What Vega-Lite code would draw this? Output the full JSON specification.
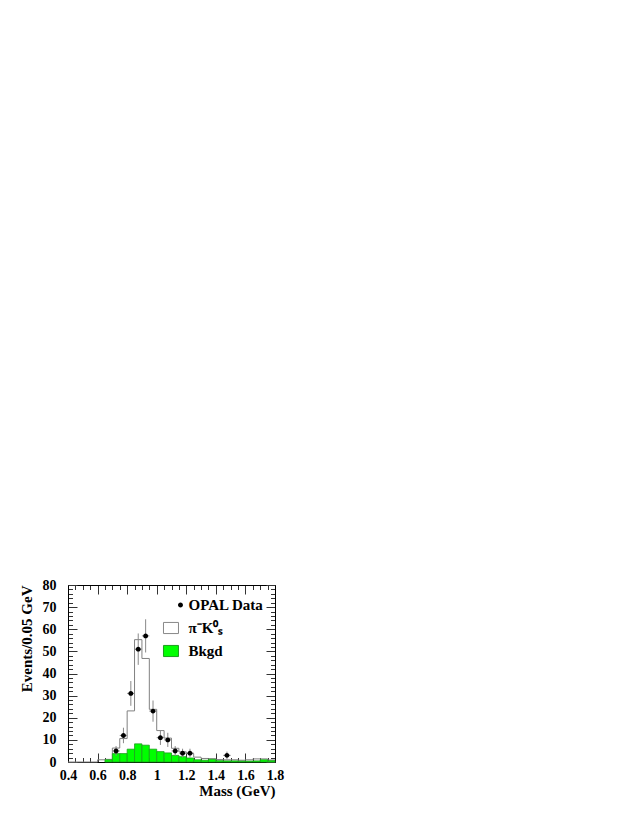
{
  "$schema": "https://vega.github.io/schema/vega-lite/v6.json",
  "width": 207,
  "height": 177,
  "autosize": {"type": "none"},
  "padding": {"left": 68, "top": 585, "right": 363, "bottom": 63},
  "background": "white",
  "config": {
    "view": {"stroke": null},
    "font": "Liberation Serif",
    "axis": {
      "labelFont": "Liberation Serif", "labelFontWeight": "bold", "labelFontSize": 14, "labelColor": "black",
      "titleFont": "Liberation Serif", "titleFontWeight": "bold", "titleFontSize": 15, "titleColor": "black",
      "domainColor": "black", "domainWidth": 1, "tickColor": "#333333", "tickWidth": 1,
      "grid": false, "labelOverlap": false, "labelFlush": false, "labelBound": false
    },
    "legend": {
      "labelFont": "Liberation Serif", "labelFontWeight": "bold", "labelFontSize": 15, "labelColor": "black"
    }
  },
  "datasets": {
    "mc": [
      {"lo": 0.40, "v": 0}, {"lo": 0.45, "v": 0}, {"lo": 0.50, "v": 0}, {"lo": 0.55, "v": 0},
      {"lo": 0.60, "v": 1.0}, {"lo": 0.65, "v": 1.2}, {"lo": 0.70, "v": 6.3}, {"lo": 0.75, "v": 10.6},
      {"lo": 0.80, "v": 23.1}, {"lo": 0.85, "v": 55.3}, {"lo": 0.90, "v": 46.8}, {"lo": 0.95, "v": 23.8},
      {"lo": 1.00, "v": 14.2}, {"lo": 1.05, "v": 10.8}, {"lo": 1.10, "v": 6.2}, {"lo": 1.15, "v": 4.6},
      {"lo": 1.20, "v": 3.8}, {"lo": 1.25, "v": 2.2}, {"lo": 1.30, "v": 1.6}, {"lo": 1.35, "v": 1.5},
      {"lo": 1.40, "v": 1.1}, {"lo": 1.45, "v": 1.0}, {"lo": 1.50, "v": 1.0}, {"lo": 1.55, "v": 0.8},
      {"lo": 1.60, "v": 1.0}, {"lo": 1.65, "v": 1.4}, {"lo": 1.70, "v": 1.4}, {"lo": 1.75, "v": 0.9},
      {"lo": 1.80, "v": 0.9}
    ],
    "bkgd": [
      {"lo": 0.65, "hi": 0.70, "v": 1.0},
      {"lo": 0.70, "hi": 0.75, "v": 3.8},
      {"lo": 0.75, "hi": 0.80, "v": 3.8},
      {"lo": 0.80, "hi": 0.85, "v": 5.8},
      {"lo": 0.85, "hi": 0.90, "v": 8.2},
      {"lo": 0.90, "hi": 0.95, "v": 7.6},
      {"lo": 0.95, "hi": 1.00, "v": 5.8},
      {"lo": 1.00, "hi": 1.05, "v": 4.7},
      {"lo": 1.05, "hi": 1.10, "v": 4.1},
      {"lo": 1.10, "hi": 1.15, "v": 3.0},
      {"lo": 1.15, "hi": 1.20, "v": 2.4},
      {"lo": 1.20, "hi": 1.25, "v": 1.8},
      {"lo": 1.25, "hi": 1.30, "v": 1.0},
      {"lo": 1.30, "hi": 1.35, "v": 0.8},
      {"lo": 1.35, "hi": 1.40, "v": 1.2},
      {"lo": 1.40, "hi": 1.45, "v": 0.6},
      {"lo": 1.45, "hi": 1.50, "v": 0.5},
      {"lo": 1.50, "hi": 1.55, "v": 0.5},
      {"lo": 1.55, "hi": 1.60, "v": 0.4},
      {"lo": 1.60, "hi": 1.65, "v": 0.4},
      {"lo": 1.65, "hi": 1.70, "v": 0.5},
      {"lo": 1.70, "hi": 1.75, "v": 1.0},
      {"lo": 1.75, "hi": 1.80, "v": 0.6}
    ],
    "opal": [
      {"m": 0.725, "n": 5, "nlo": 2.8, "nhi": 7.2, "mlo": 0.70, "mhi": 0.75, "series": "OPAL Data"},
      {"m": 0.775, "n": 12, "nlo": 8.5, "nhi": 15.5, "mlo": 0.75, "mhi": 0.80, "series": "OPAL Data"},
      {"m": 0.825, "n": 31, "nlo": 25.4, "nhi": 36.6, "mlo": 0.80, "mhi": 0.85, "series": "OPAL Data"},
      {"m": 0.875, "n": 51, "nlo": 43.9, "nhi": 58.1, "mlo": 0.85, "mhi": 0.90, "series": "OPAL Data"},
      {"m": 0.925, "n": 57, "nlo": 49.5, "nhi": 64.5, "mlo": 0.90, "mhi": 0.95, "series": "OPAL Data"},
      {"m": 0.975, "n": 23, "nlo": 18.2, "nhi": 27.8, "mlo": 0.95, "mhi": 1.00, "series": "OPAL Data"},
      {"m": 1.025, "n": 11, "nlo": 7.7, "nhi": 14.3, "mlo": 1.00, "mhi": 1.05, "series": "OPAL Data"},
      {"m": 1.075, "n": 10, "nlo": 6.8, "nhi": 13.2, "mlo": 1.05, "mhi": 1.10, "series": "OPAL Data"},
      {"m": 1.125, "n": 5, "nlo": 2.8, "nhi": 7.2, "mlo": 1.10, "mhi": 1.15, "series": "OPAL Data"},
      {"m": 1.175, "n": 4, "nlo": 2.0, "nhi": 6.0, "mlo": 1.15, "mhi": 1.20, "series": "OPAL Data"},
      {"m": 1.225, "n": 4, "nlo": 2.0, "nhi": 6.0, "mlo": 1.20, "mhi": 1.25, "series": "OPAL Data"},
      {"m": 1.475, "n": 3, "nlo": 1.3, "nhi": 4.7, "mlo": 1.45, "mhi": 1.50, "series": "OPAL Data"}
    ]
  },
  "layer": [
    {
      "data": {"name": "mc"},
      "mark": {"type": "line", "interpolate": "step-after", "stroke": "#808080", "strokeWidth": 1},
      "encoding": {
        "x": {"field": "lo", "type": "quantitative",
          "scale": {"domain": [0.4, 1.8], "nice": false, "zero": false},
          "axis": {"orient": "top", "labels": false, "title": null,
            "values": [0.4,0.45,0.5,0.55,0.6,0.65,0.7,0.75,0.8,0.85,0.9,0.95,1,1.05,1.1,1.15,1.2,1.25,1.3,1.35,1.4,1.45,1.5,1.55,1.6,1.65,1.7,1.75,1.8],
            "tickSize": {"condition": {"test": "abs(datum.value*5 - round(datum.value*5)) < 0.001", "value": -9}, "value": -4.5}}},
        "y": {"field": "v", "type": "quantitative",
          "scale": {"domain": [0, 80], "nice": false, "zero": false},
          "axis": {"orient": "right", "labels": false, "title": null,
            "values": [0,2,4,6,8,10,12,14,16,18,20,22,24,26,28,30,32,34,36,38,40,42,44,46,48,50,52,54,56,58,60,62,64,66,68,70,72,74,76,78,80],
            "tickSize": {"condition": {"test": "datum.value % 10 === 0", "value": -9}, "value": -4.5}}}
      }
    },
    {
      "data": {"name": "bkgd"},
      "mark": {"type": "bar", "fill": "#00ff00", "stroke": "#1e9e1e", "strokeWidth": 0.8},
      "encoding": {
        "x": {"field": "lo", "type": "quantitative",
          "scale": {"domain": [0.4, 1.8], "nice": false, "zero": false},
          "axis": {"orient": "bottom", "title": "Mass (GeV)", "titleAnchor": "end", "titlePadding": -3,
            "labelPadding": 15,
            "values": [0.4,0.45,0.5,0.55,0.6,0.65,0.7,0.75,0.8,0.85,0.9,0.95,1,1.05,1.1,1.15,1.2,1.25,1.3,1.35,1.4,1.45,1.5,1.55,1.6,1.65,1.7,1.75,1.8],
            "labelExpr": "abs(datum.value*5 - round(datum.value*5)) < 0.001 ? format(datum.value, '.2~f') : ''",
            "tickSize": {"condition": {"test": "abs(datum.value*5 - round(datum.value*5)) < 0.001", "value": -9}, "value": -4.5}}},
        "x2": {"field": "hi"},
        "y": {"field": "v", "type": "quantitative",
          "scale": {"domain": [0, 80], "nice": false, "zero": false},
          "axis": {"orient": "left", "title": "Events/0.05 GeV", "titleAnchor": "end", "titlePadding": 8,
            "labelPadding": 21,
            "values": [0,2,4,6,8,10,12,14,16,18,20,22,24,26,28,30,32,34,36,38,40,42,44,46,48,50,52,54,56,58,60,62,64,66,68,70,72,74,76,78,80],
            "labelExpr": "datum.value % 10 === 0 ? datum.label : ''",
            "tickSize": {"condition": {"test": "datum.value % 10 === 0", "value": -9}, "value": -4.5}}},
        "y2": {"datum": 0}
      }
    },
    {
      "data": {"name": "opal"},
      "mark": {"type": "rule", "stroke": "#888888", "strokeWidth": 1},
      "encoding": {
        "x": {"field": "m", "type": "quantitative", "scale": {"domain": [0.4, 1.8], "nice": false, "zero": false}, "axis": null},
        "y": {"field": "nlo", "type": "quantitative", "scale": {"domain": [0, 80], "nice": false, "zero": false}, "axis": null},
        "y2": {"field": "nhi"}
      }
    },
    {
      "data": {"name": "opal"},
      "mark": {"type": "rule", "stroke": "#888888", "strokeWidth": 1},
      "encoding": {
        "x": {"field": "mlo", "type": "quantitative", "scale": {"domain": [0.4, 1.8], "nice": false, "zero": false}, "axis": null},
        "x2": {"field": "mhi"},
        "y": {"field": "n", "type": "quantitative", "scale": {"domain": [0, 80], "nice": false, "zero": false}, "axis": null}
      }
    },
    {
      "data": {"name": "opal"},
      "mark": {"type": "point", "filled": true, "size": 220, "opacity": 1, "strokeWidth": 1},
      "encoding": {
        "x": {"field": "m", "type": "quantitative", "scale": {"domain": [0.4, 1.8], "nice": false, "zero": false}, "axis": null},
        "y": {"field": "n", "type": "quantitative", "scale": {"domain": [0, 80], "nice": false, "zero": false}, "axis": null},
        "fill": {"field": "series", "type": "nominal",
          "scale": {"domain": ["OPAL Data", "π⁻K⁰ₛ", "Bkgd"], "range": ["black", "white", "#00ff00"]},
          "legend": {"title": null, "orient": "none", "legendX": 104.5, "legendY": 12, "padding": 0,
            "rowPadding": 7, "labelOffset": 0, "symbolSize": 225, "symbolStrokeWidth": 1}},
        "shape": {"field": "series", "type": "nominal",
          "scale": {"domain": ["OPAL Data", "π⁻K⁰ₛ", "Bkgd"],
            "range": ["M-0.33,0A0.33,0.33 0 1,0 0.33,0A0.33,0.33 0 1,0 -0.33,0Z", "M-2.27,-0.74H-0.27V0.74H-2.27Z", "M-2.27,-0.74H-0.27V0.74H-2.27Z"]},
          "legend": {"title": null, "orient": "none", "legendX": 104.5, "legendY": 12, "padding": 0,
            "rowPadding": 7, "labelOffset": 0, "symbolSize": 225, "symbolStrokeWidth": 1}},
        "stroke": {"field": "series", "type": "nominal",
          "scale": {"domain": ["OPAL Data", "π⁻K⁰ₛ", "Bkgd"], "range": ["transparent", "#888888", "#1e9e1e"]},
          "legend": {"title": null, "orient": "none", "legendX": 104.5, "legendY": 12, "padding": 0,
            "rowPadding": 7, "labelOffset": 0, "symbolSize": 225, "symbolStrokeWidth": 1}}
      }
    }
  ],
  "resolve": {"axis": {"x": "independent", "y": "independent"}}
}
